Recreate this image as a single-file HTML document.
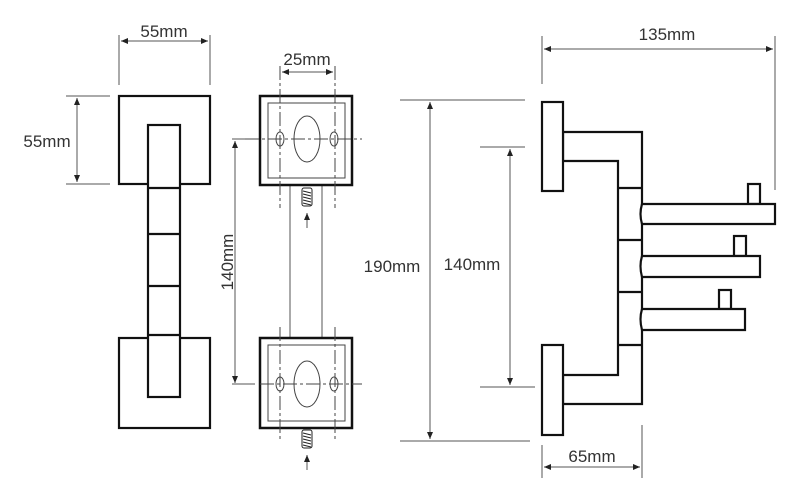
<!DOCTYPE html>
<html><head><meta charset="utf-8"><style>
html,body{margin:0;padding:0;background:#fff;}
svg{display:block;}
text{font-family:"Liberation Sans",sans-serif;font-size:17px;fill:#333;}
</style></head><body>
<svg width="799" height="504" viewBox="0 0 799 504" xmlns="http://www.w3.org/2000/svg">
<defs>
<marker id="a" markerWidth="8" markerHeight="8" refX="7" refY="3" orient="auto-start-reverse" markerUnits="userSpaceOnUse"><path d="M0,0 L7,3 L0,6 z" fill="#222"/></marker>
</defs>
<g stroke="#555" stroke-width="1" fill="none">
<line x1="119" y1="35" x2="119" y2="85"/><line x1="210" y1="35" x2="210" y2="85"/>
<line x1="121" y1="41" x2="208" y2="41" marker-start="url(#a)" marker-end="url(#a)"/>
<line x1="66" y1="96" x2="110" y2="96"/><line x1="66" y1="184" x2="110" y2="184"/>
<line x1="77" y1="98" x2="77" y2="182" marker-start="url(#a)" marker-end="url(#a)"/>
<line x1="235" y1="141" x2="235" y2="383" marker-start="url(#a)" marker-end="url(#a)"/>
<line x1="232" y1="139" x2="255" y2="139"/><line x1="232" y1="384" x2="255" y2="384"/>
<line x1="282" y1="72" x2="333" y2="72" marker-start="url(#a)" marker-end="url(#a)"/>
<line x1="290" y1="185" x2="290" y2="338"/><line x1="322" y1="185" x2="322" y2="338"/>
<line x1="307" y1="228" x2="307" y2="213" marker-end="url(#a)"/>
<line x1="307" y1="470" x2="307" y2="455" marker-end="url(#a)"/>
<line x1="400" y1="100" x2="525" y2="100"/><line x1="400" y1="441" x2="530" y2="441"/>
<line x1="430" y1="102" x2="430" y2="439" marker-start="url(#a)" marker-end="url(#a)"/>
<line x1="480" y1="147" x2="525" y2="147"/><line x1="480" y1="387" x2="535" y2="387"/>
<line x1="510" y1="149" x2="510" y2="385" marker-start="url(#a)" marker-end="url(#a)"/>
<line x1="542" y1="36" x2="542" y2="84"/><line x1="775" y1="36" x2="775" y2="190"/>
<line x1="544" y1="49" x2="773" y2="49" marker-start="url(#a)" marker-end="url(#a)"/>
<line x1="542" y1="445" x2="542" y2="478"/><line x1="642" y1="425" x2="642" y2="478"/>
<line x1="544" y1="467" x2="640" y2="467" marker-start="url(#a)" marker-end="url(#a)"/>
</g>
<g stroke="#111" stroke-width="2.2" fill="#fff">
<rect x="119" y="96" width="91" height="88"/>
<rect x="119" y="338" width="91" height="90"/>
<rect x="148" y="125" width="32" height="272"/>
<line x1="148" y1="188" x2="180" y2="188"/><line x1="148" y1="234" x2="180" y2="234"/>
<line x1="148" y1="286" x2="180" y2="286"/><line x1="148" y1="335" x2="180" y2="335"/>
</g>
<g>
<g stroke="#111" stroke-width="2.5" fill="none">
<rect x="260" y="96" width="92" height="89"/>
<rect x="260" y="338" width="92" height="90"/>
</g>
<g stroke="#444" stroke-width="1" fill="none">
<rect x="268" y="103" width="77" height="75"/>
<rect x="268" y="345" width="77" height="76"/>
<ellipse cx="307" cy="139" rx="13" ry="23"/>
<ellipse cx="307" cy="384" rx="13" ry="23"/>
<ellipse cx="280" cy="139" rx="4" ry="7"/><ellipse cx="334" cy="139" rx="4" ry="7"/>
<ellipse cx="280" cy="384" rx="4" ry="7"/><ellipse cx="334" cy="384" rx="4" ry="7"/>
<g stroke-dasharray="14,3,3,3">
<line x1="245" y1="139" x2="362" y2="139"/><line x1="260" y1="384" x2="362" y2="384"/>
<line x1="280" y1="66" x2="280" y2="208"/><line x1="335" y1="66" x2="335" y2="208"/>
<line x1="280" y1="327" x2="280" y2="442"/><line x1="335" y1="327" x2="335" y2="442"/>
</g>
</g>
<g stroke="#222" stroke-width="1" fill="#fff">
<rect x="302" y="188" width="10" height="18" rx="2"/>
<rect x="302" y="430" width="10" height="18" rx="2"/>
<path d="M303,191 L311,193 M303,194 L311,196 M303,197 L311,199 M303,200 L311,202 M303,203 L311,205 M303,433 L311,435 M303,436 L311,438 M303,439 L311,441 M303,442 L311,444 M303,445 L311,447"/>
</g>
</g>
<g stroke="#111" stroke-width="2.2" fill="#fff">
<path d="M563,132 L642,132 L642,404 L563,404 L563,375 L618,375 L618,161 L563,161 Z"/>
<line x1="618" y1="188" x2="642" y2="188"/><line x1="618" y1="240" x2="642" y2="240"/>
<line x1="618" y1="292" x2="642" y2="292"/><line x1="618" y1="345" x2="642" y2="345"/>
<rect x="542" y="102" width="21" height="89"/>
<rect x="542" y="345" width="21" height="90"/>
<rect x="748" y="184" width="12" height="20"/>
<rect x="734" y="236" width="12" height="20"/>
<rect x="719" y="290" width="12" height="19"/>
<path d="M642,204 L775,204 L775,224 L642,224 Q639,214 642,204 Z"/>
<path d="M642,256 L760,256 L760,277 L642,277 Q639,266 642,256 Z"/>
<path d="M642,309 L745,309 L745,330 L642,330 Q639,319 642,309 Z"/>
</g>
<text x="164" y="37" text-anchor="middle">55mm</text>
<text x="47" y="147" text-anchor="middle">55mm</text>
<text x="307" y="65" text-anchor="middle">25mm</text>
<text transform="translate(233,262) rotate(-90)" text-anchor="middle">140mm</text>
<text x="392" y="272" text-anchor="middle">190mm</text>
<text x="472" y="270" text-anchor="middle">140mm</text>
<text x="667" y="40" text-anchor="middle">135mm</text>
<text x="592" y="462" text-anchor="middle">65mm</text>
</svg>
</body></html>
